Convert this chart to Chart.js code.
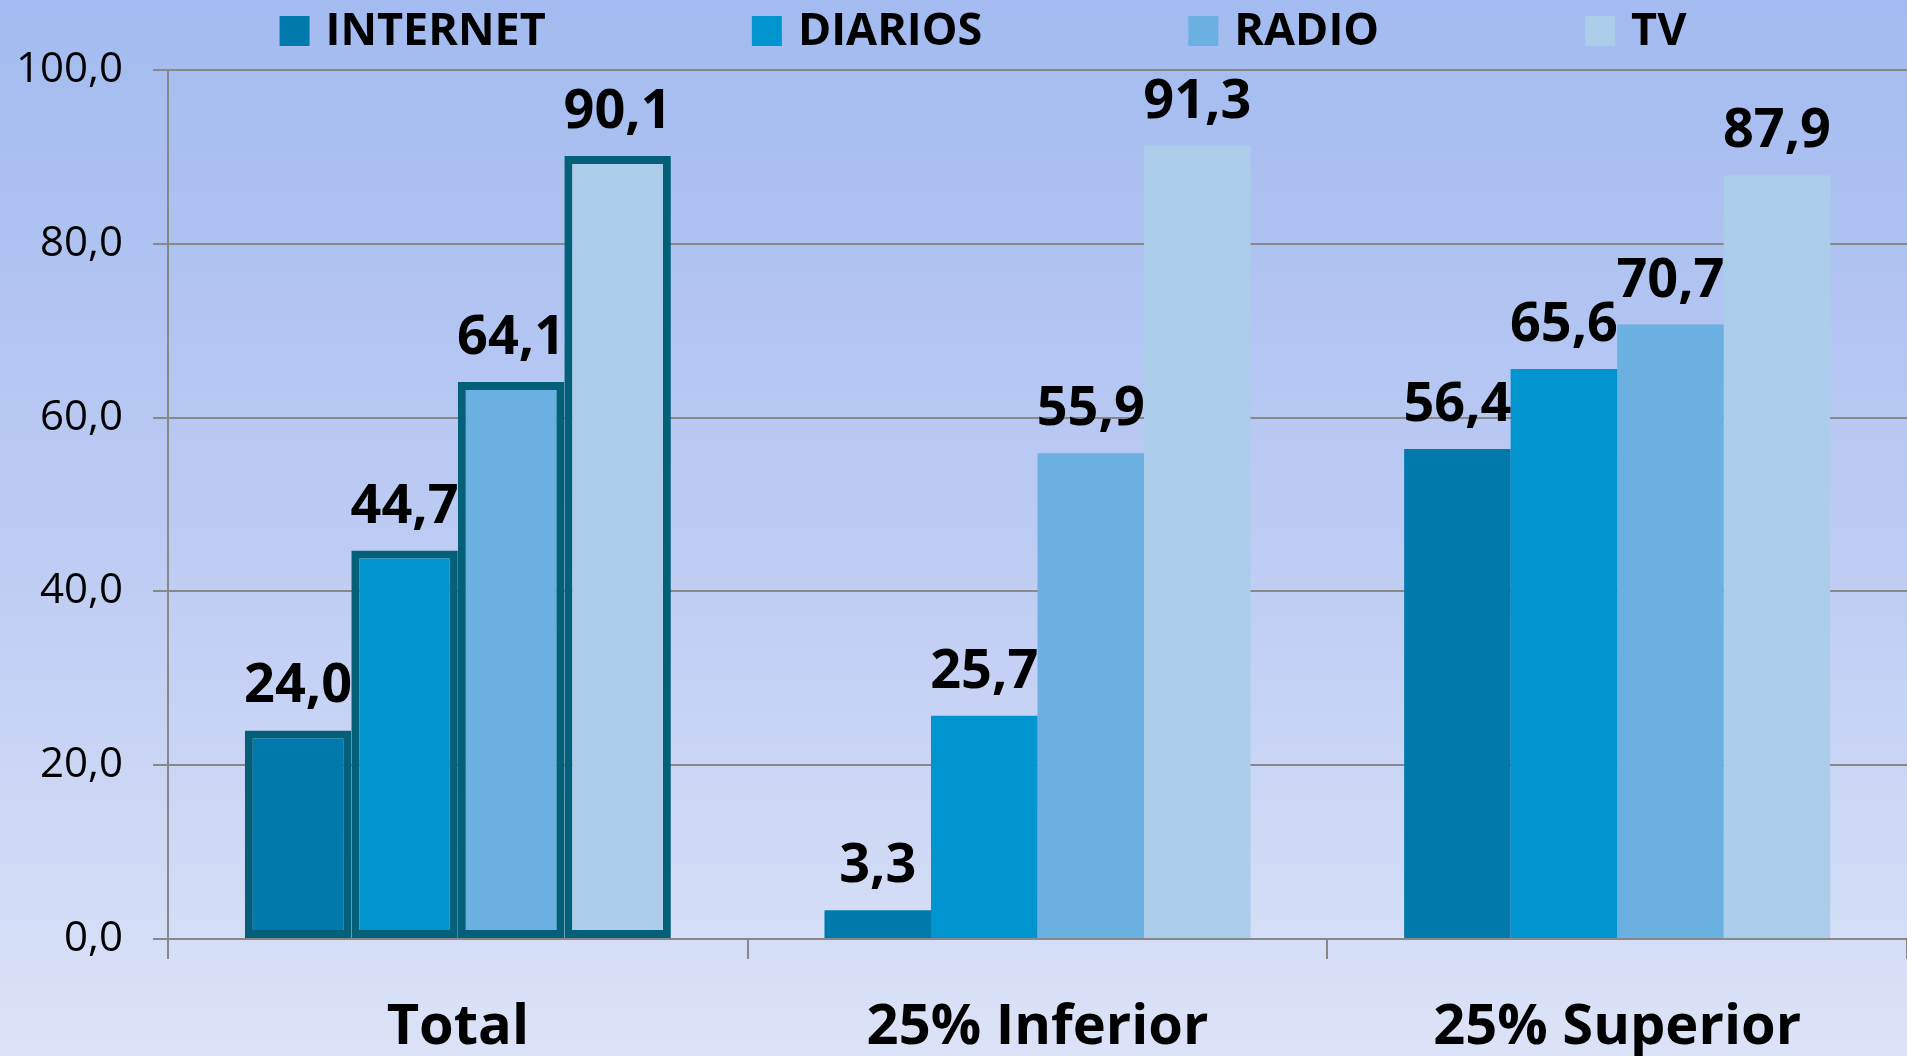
<!DOCTYPE html>
<html>
<head>
<meta charset="utf-8">
<script src="https://cdn.jsdelivr.net/npm/chart.js@4.4.1/dist/chart.umd.min.js"></script>
<style>
  html, body { margin: 0; padding: 0; overflow: hidden; }
  canvas { display: block; }
</style>
</head>
<body>
<canvas id="chart" width="1907" height="1056"></canvas>
<script>
// data
var categories = ['Total', '25% Inferior', '25% Superior'];
var seriesNames = ['INTERNET', 'DIARIOS', 'RADIO', 'TV'];
var internet = [24.0, 3.3, 56.4];
var diarios = [44.7, 25.7, 65.6];
var radio = [64.1, 55.9, 70.7];
var tv = [90.1, 91.3, 87.9];
var yTicks = [0, 20, 40, 60, 80, 100];

var colors = ['#007aac', '#0095cf', '#6ab0e0', '#accdea'];
var outline = '#046079';
var FONT = '"Open Sans", sans-serif';

var fmt = function(v){
  return v.toFixed(1).replace('.', ',');
};

var makeSet = function(i, values){
  return {
    label: seriesNames[i],
    data: values,
    backgroundColor: colors[i],
    borderColor: outline,
    borderWidth: [8, 0, 0],   // only the "Total" group is outlined
    borderSkipped: false,
    barPercentage: 1,
    categoryPercentage: 0.735
  };
};

var background = {
  id: 'background',
  beforeDraw: function(chart){
    var ctx = chart.ctx;
    var g = ctx.createLinearGradient(0, 0, 0, chart.height);
    g.addColorStop(0, '#a3bbf0');
    g.addColorStop(0.5, '#bccbf3');
    g.addColorStop(1, '#dce3f8');
    ctx.save();
    ctx.fillStyle = g;
    ctx.fillRect(0, 0, chart.width, chart.height);
    ctx.restore();
  }
};

var valueLabels = {
  id: 'valueLabels',
  afterDatasetsDraw: function(chart){
    var ctx = chart.ctx;
    ctx.save();
    ctx.font = 'bold 54px ' + FONT;
    ctx.fillStyle = '#000';
    ctx.textAlign = 'center';
    ctx.textBaseline = 'alphabetic';
    chart.data.datasets.forEach(function(ds, i){
      chart.getDatasetMeta(i).data.forEach(function(bar, j){
        ctx.fillText(fmt(ds.data[j]), bar.x, bar.y - 28);
      });
    });
    ctx.restore();
  }
};

// legend drawn by hand so the row can sit tight at the top
var topLegend = {
  id: 'topLegend',
  afterDraw: function(chart){
    var ctx = chart.ctx;
    var box = 30, gap = 16, spacing = 206, cy = 31;
    ctx.save();
    ctx.font = 'bold 45px ' + FONT;
    var widths = seriesNames.map(function(n){ return ctx.measureText(n).width; });
    var total = 0;
    widths.forEach(function(w){ total += box + gap + w; });
    total += spacing * (widths.length - 1);
    var x = 983 - total / 2;
    ctx.textBaseline = 'middle';
    ctx.textAlign = 'left';
    seriesNames.forEach(function(n, i){
      ctx.fillStyle = colors[i];
      ctx.fillRect(x, cy - box / 2, box, box);
      ctx.fillStyle = '#000';
      ctx.fillText(n, x + box + gap, cy + 1);
      x += box + gap + widths[i] + spacing;
    });
    ctx.restore();
  }
};

var chart = new Chart(document.getElementById('chart'), {
  type: 'bar',
  data: {
    labels: categories,
    datasets: [makeSet(0, internet), makeSet(1, diarios), makeSet(2, radio), makeSet(3, tv)]
  },
  options: {
    responsive: false,
    animation: false,
    devicePixelRatio: 1,
    layout: { padding: { top: 70, left: 0, right: 0, bottom: 0 } },
    plugins: {
      legend: { display: false },
      tooltip: { enabled: false }
    },
    scales: {
      x: {
        afterFit: function(scale){ scale.height = 117; },
        grid: {
          offset: true,
          drawOnChartArea: false,
          tickLength: 20,
          color: '#888',
          lineWidth: 2
        },
        border: { display: true, color: '#888', width: 2 },
        ticks: {
          color: '#000',
          padding: 35,
          font: { family: FONT, size: 56, weight: 'bold' }
        }
      },
      y: {
        min: 0,
        max: 100,
        afterFit: function(scale){ scale.width = 168; },
        afterBuildTicks: function(scale){
          scale.ticks = yTicks.map(function(v){ return { value: v }; });
        },
        grid: { color: '#888', lineWidth: 2, tickLength: 15 },
        border: { display: true, color: '#888', width: 2 },
        ticks: {
          color: '#000',
          padding: 30,
          font: { family: FONT, size: 42 },
          callback: function(v){ return fmt(v); }
        }
      }
    }
  },
  plugins: [background, valueLabels, topLegend]
});
</script>
</body>
</html>
